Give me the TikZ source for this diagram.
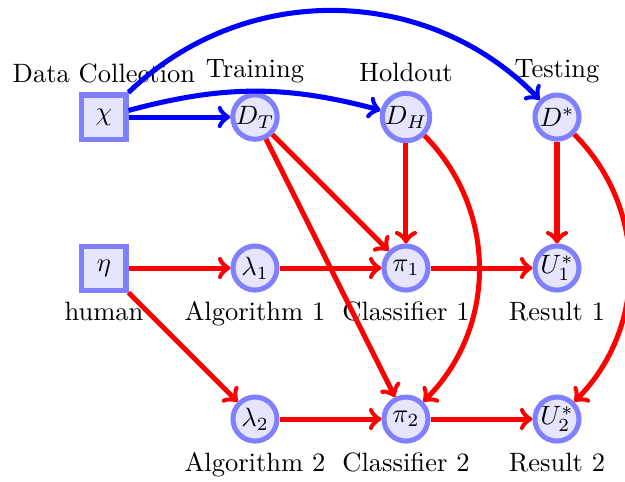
\documentclass[tikz,border=0pt]{standalone}
\begin{document}
\begin{tikzpicture}[
  sq/.style={rectangle, draw=blue!50, fill=blue!10, line width=1.9pt, minimum size=16.6pt, inner sep=0pt},
  circ/.style={circle, draw=blue!50, fill=blue!10, line width=1.9pt, minimum size=16.6pt, inner sep=0pt},
  bluearrow/.style={->, blue, line width=1.9pt},
  redarrow/.style={->, red, line width=1.9pt}
]
\useasboundingbox (-1.377,-4.821) rectangle (6.901,1.550);
\node[sq, label=above:Data Collection] (chi) at (0,0) {$\chi$};
\node[circ, label=above:Training] (DT) at (2,0) {$D_T$};
\node[circ, label=above:Holdout] (DH) at (4,0) {$D_H$};
\node[circ, label=above:Testing] (Ds) at (6,0) {$D^*$};
\node[sq, label=below:human] (eta) at (0,-2) {$\eta$};
\node[circ, label=below:Algorithm 1] (l1) at (2,-2) {$\lambda_1$};
\node[circ, label=below:Classifier 1] (p1) at (4,-2) {$\pi_1$};
\node[circ, label=below:Result 1] (U1) at (6,-2) {$U_1^*$};
\node[circ, label=below:Algorithm 2] (l2) at (2,-4) {$\lambda_2$};
\node[circ, label=below:Classifier 2] (p2) at (4,-4) {$\pi_2$};
\node[circ, label=below:Result 2] (U2) at (6,-4) {$U_2^*$};
\draw[bluearrow] (chi) -- (DT);
\draw[bluearrow] (chi) to[bend left=15] (DH);
\draw[bluearrow] (chi) to[bend left=45] (Ds);
\draw[redarrow] (eta) -- (l1);
\draw[redarrow] (eta) -- (l2);
\draw[redarrow] (l1) -- (p1);
\draw[redarrow] (l2) -- (p2);
\draw[redarrow] (p1) -- (U1);
\draw[redarrow] (p2) -- (U2);
\draw[redarrow] (DT) -- (p1);
\draw[redarrow] (DT) -- (p2);
\draw[redarrow] (DH) -- (p1);
\draw[redarrow] (DH) to[bend left=45] (p2);
\draw[redarrow] (Ds) -- (U1);
\draw[redarrow] (Ds) to[bend left=45] (U2);
\end{tikzpicture}
\end{document}
